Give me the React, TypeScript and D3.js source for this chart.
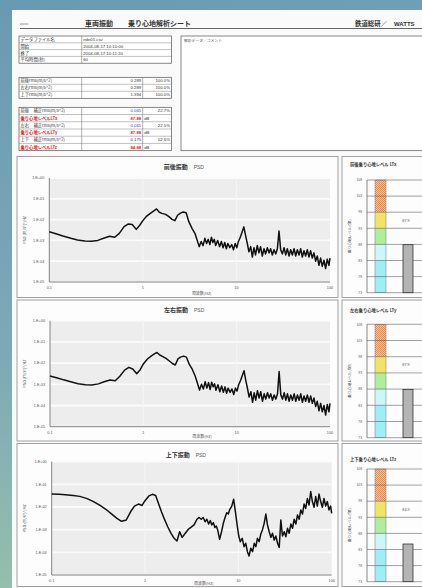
import React from 'react';
import * as d3 from 'd3';

// ---- data ----
const freqHz = [
  0.1, 0.12, 0.14, 0.17, 0.2, 0.24, 0.28, 0.33, 0.38, 0.44, 0.5, 0.56, 0.63, 0.7, 0.77, 0.85, 0.93, 1.0,
  1.1, 1.2, 1.3, 1.4, 1.5, 1.6, 1.75, 1.9, 2.05, 2.2, 2.35, 2.5, 2.7, 2.9, 3.1, 3.35, 3.6, 3.8,
  4.0, 4.2, 4.4, 4.6, 4.8, 5.0, 5.2, 5.4, 5.6, 5.8, 6.0, 6.3, 6.6, 6.9, 7.2, 7.5, 7.8, 8.1, 8.5, 8.9,
  9.3, 9.7, 10.1, 10.5, 11.0, 11.5, 12.0, 12.5, 13.0, 13.6, 14.2, 14.8, 15.4, 16.0, 16.7, 17.4, 18.1,
  18.9, 19.7, 20.5, 21.4, 22.3, 23.2, 24.2, 25.2, 26.3, 27.4, 28.5, 29.7, 31.0, 32.3, 33.6, 35.0, 36.5,
  38.0, 39.6, 41.3, 43.0, 44.8, 46.7, 48.6, 50.6, 52.7, 54.9, 57.2, 59.6, 62.1, 64.7, 67.4, 70.2, 73.1,
  76.2, 79.4, 82.7, 86.2, 89.8, 93.5, 97.4, 100,
];

// PSD as log10 values
const psdFrontBack = [
  -2.58, -2.69, -2.79, -2.9, -2.98, -3.03, -3.04, -3.0, -2.9, -2.8, -2.85, -2.66, -2.34, -2.21, -2.24, -2.47, -2.26, -2.05,
  -1.83, -1.7, -1.59, -1.49, -1.65, -1.7, -1.75, -1.86, -1.99, -2.05, -1.79, -1.7, -1.63, -1.67, -2.1, -2.42, -2.66, -2.98,
  -3.3, -3.05, -3.25, -2.9, -3.15, -2.95, -3.2, -2.85, -3.1, -2.95, -3.25, -3.0, -3.3, -3.05, -3.35, -3.1, -3.4, -3.15, -3.35, -3.2,
  -3.45, -3.15, -3.35, -3.05, -2.85, -2.6, -2.35, -2.75, -3.1, -3.55, -3.3, -3.8, -3.35, -3.7, -3.25, -3.6, -3.3,
  -3.75, -3.4, -3.65, -3.35, -3.6, -3.4, -3.7, -3.45, -3.65, -3.4, -2.55, -3.45, -3.65, -3.35, -3.7, -3.4, -3.75,
  -3.45, -3.7, -3.4, -3.75, -3.45, -3.7, -3.4, -3.8, -3.5, -3.75, -3.45, -3.8, -3.5, -3.85, -3.6, -4.0, -3.75,
  -4.2, -3.85, -4.25, -3.95, -4.35, -3.9, -4.2, -3.85,
];

const psdLeftRight = [
  -2.61, -2.7, -2.79, -2.89, -2.97, -3.02, -3.03, -2.98, -2.88, -2.8, -2.83, -2.62, -2.33, -2.2, -2.28, -2.5, -2.3, -2.04,
  -1.82, -1.68, -1.58, -1.5, -1.62, -1.68, -1.78, -1.9, -2.02, -2.09, -1.8, -1.72, -1.67, -1.72, -2.05, -2.3, -2.62, -2.95,
  -3.27, -3.0, -3.22, -2.88, -3.18, -2.92, -3.25, -2.9, -3.12, -2.98, -3.28, -3.02, -3.35, -3.08, -3.38, -3.12, -3.42, -3.18, -3.38, -3.22,
  -3.48, -3.18, -3.32, -3.02, -2.82, -2.58, -2.36, -2.8, -3.15, -3.6, -3.35, -3.85, -3.4, -3.75, -3.3, -3.65, -3.35,
  -3.8, -3.45, -3.7, -3.4, -3.65, -3.45, -3.75, -3.5, -3.7, -3.45, -2.4, -3.5, -3.7, -3.4, -3.75, -3.45, -3.8,
  -3.5, -3.75, -3.45, -3.8, -3.5, -3.75, -3.45, -3.85, -3.55, -3.8, -3.5, -3.85, -3.55, -3.9, -3.65, -4.05, -3.8,
  -4.25, -3.9, -4.3, -4.0, -4.45, -3.95, -4.3, -3.9,
];

const psdUpDown = [
  -1.43, -1.44, -1.46, -1.49, -1.53, -1.63, -1.76, -1.93, -2.1, -2.31, -2.5, -2.63, -2.57, -2.21, -1.96, -1.87, -1.93, -1.72,
  -1.51, -1.44, -1.49, -1.87, -2.21, -2.5, -2.87, -3.16, -3.38, -3.5, -3.09, -3.34, -3.16, -2.99, -2.9, -2.79, -2.54, -2.46,
  -2.54, -2.46, -2.65, -2.54, -2.75, -2.6, -2.79, -2.69, -2.9, -2.84, -3.01, -3.43, -3.09, -2.72, -2.46, -2.25, -2.31, -2.1, -1.96, -1.66,
  -2.21, -2.79, -3.28, -3.53, -3.38, -3.75, -3.6, -3.97, -4.16, -3.82, -3.97, -3.6, -3.75, -3.38, -3.53, -3.19, -3.01,
  -2.72, -2.31, -2.79, -3.09, -3.34, -3.16, -3.46, -3.28, -3.6, -3.78, -2.57, -3.28, -3.09, -3.31, -2.94, -3.16, -2.75,
  -2.94, -2.54, -2.75, -2.35, -2.54, -2.13, -2.31, -1.87, -2.06, -1.62, -1.91, -1.32, -1.76, -2.01, -1.54, -1.96, -1.43,
  -1.76, -2.01, -1.62, -1.96, -1.76, -2.13, -1.96, -2.28,
];

const psdTickExp = [0, -1, -2, -3, -4, -5];
const freqTicks = [0.1, 1, 10, 100];
const levelTicks = [73, 78, 83, 88, 93, 98, 103, 108];
const bandEdges = [73, 83, 88, 93, 98, 108];
const rideLevels = [87.9, 87.9, 84.7];
const rideLabels = ['87.9', '87.9', '84.9'];
const psdTitles = ['前後振動', '左右振動', '上下振動'];
const levelTitles = ['前後乗り心地レベル LTx', '左右乗り心地レベル LTy', '上下乗り心地レベル LTz'];

const infoLabels = ['データファイル名', '開始', '終了', '平均時間(秒)'];
const infoValues = ['ride01.csv', '2004-08-17 10:10:00', '2004-08-17 10:11:20', '60'];
const rmsLabels = ['前後rms(m/s^2)', '左右rms(m/s^2)', '上下rms(m/s^2)'];
const rmsValues = ['0.289', '0.289', '1.394'];
const rmsPercents = ['100.0%', '100.0%', '100.0%'];
const corrLabels = ['前後　補正rms(m/s^2)', '乗り心地レベルLTx', '左右　補正rms(m/s^2)', '乗り心地レベルLTy', '上下　補正rms(m/s^2)', '乗り心地レベルLTz'];
const corrValues = ['0.065', '87.88', '0.065', '87.88', '0.175', '84.88'];
const corrUnits = ['22.7%', 'dB', '22.5%', 'dB', '12.6%', 'dB'];

const psdSeries = [psdFrontBack, psdLeftRight, psdUpDown];

const JP = '"Noto Sans CJK JP", "Noto Sans", sans-serif';
const SANS = '"Liberation Sans", Arial, sans-serif';

// panel frames on the sheet
const psdPanels = [
  { box: [17, 156.5, 338, 297.5], plot: [49.3, 178, 330, 282], titleY: 169, labY: 289, axY: 294.5 },
  { box: [17, 300, 338, 441], plot: [50, 320.7, 330, 426.7], titleY: 312, labY: 433.5, axY: 438 },
  { box: [17, 443.5, 338, 586.5], plot: [51.7, 461.7, 331.7, 575], titleY: 457, labY: 581.5, axY: 585 },
];
const levelPanels = [
  { box: [342, 156.5, 440, 297.5], plot: [367, 180, 440, 292.7], titleY: 165.5 },
  { box: [342, 300, 440, 441], plot: [367, 324.3, 440, 437.7], titleY: 311.5 },
  { box: [342, 443.5, 440, 586.5], plot: [367, 469, 440, 581.7], titleY: 460.5 },
];
const bandColors = ['#9eeef6', '#cdf6f8', '#b0ee9c', '#f0e466', 'url(#hatch)'];

const fmtExp = (e: number) => (e === 0 ? '1.E+00' : e > 0 ? `1.E+0${e}` : `1.E-0${-e}`);

const PsdPanel = ({ p, data, title }: any) => {
  const [bx0, by0, bx1, by1] = p.box;
  const [x0, y0, x1, y1] = p.plot;
  const x = d3.scaleLog().domain([0.1, 100]).range([x0, x1]);
  const y = d3.scaleLog().domain([1e-5, 1]).range([y1, y0]);
  const line = d3
    .line<number>()
    .x((_, i) => x(freqHz[i]))
    .y(d => y(Math.pow(10, d)));
  const cy = (y0 + y1) / 2;
  const mid = (x0 + x1) / 2;
  return (
    <g>
      <rect x={bx0} y={by0} width={bx1 - bx0} height={by1 - by0} fill="#fdfdfd" stroke="#8a8a8a" strokeWidth={0.8} />
      <rect x={x0} y={y0} width={x1 - x0} height={y1 - y0} fill="#ededed" />
      {psdTickExp.map(e => (
        <line key={e} x1={x0} x2={x1} y1={y(Math.pow(10, e))} y2={y(Math.pow(10, e))} stroke="#fbfbfb" strokeWidth={1.8} />
      ))}
      {freqTicks.slice(1, 3).map(f => (
        <line key={f} x1={x(f)} x2={x(f)} y1={y0} y2={y1} stroke="#f6f6f6" strokeWidth={1} />
      ))}
      <line x1={x0} x2={x0} y1={y0} y2={y1} stroke="#666" strokeWidth={0.8} />
      <line x1={x0} x2={x1} y1={y1} y2={y1} stroke="#666" strokeWidth={0.8} />
      {psdTickExp.map(e => (
        <text key={e} x={x0 - 5} y={y(Math.pow(10, e)) + 1.3} fontSize={3.8} fontFamily={SANS} fill="#555" textAnchor="end">
          {fmtExp(e)}
        </text>
      ))}
      {freqTicks.map(f => (
        <text key={f} x={x(f)} y={p.labY} fontSize={3.8} fontFamily={SANS} fill="#555" textAnchor="middle">
          {f}
        </text>
      ))}
      <text x={mid + 12} y={p.axY} fontSize={4} fontFamily={JP} fill="#555" textAnchor="middle">
        周波数(Hz)
      </text>
      <text transform={`translate(26,${cy}) rotate(-90)`} fontSize={4} fontFamily={JP} fill="#555" textAnchor="middle">
        PSD (m/s²)²/Hz
      </text>
      <text x={mid - 2} y={p.titleY} fontSize={6} fontFamily={JP} fontWeight="bold" fill="#333" textAnchor="end">
        {title}
      </text>
      <text x={mid + 4} y={p.titleY} fontSize={5} fontFamily={SANS} fill="#555">
        PSD
      </text>
      <path d={line(data) || ''} fill="none" stroke="#111" strokeWidth={1.5} strokeLinejoin="round" />
    </g>
  );
};

const LevelPanel = ({ p, value, label, title }: any) => {
  const [bx0, by0, bx1, by1] = p.box;
  const [x0, y0, x1, y1] = p.plot;
  const y = d3.scaleLinear().domain([73, 108]).range([y1, y0]);
  const bandX = x0 + 8;
  const barX = x0 + 36;
  return (
    <g>
      <rect x={bx0} y={by0} width={bx1 - bx0} height={by1 - by0} fill="#fdfdfd" stroke="#8a8a8a" strokeWidth={0.8} />
      {bandEdges.slice(0, -1).map((b, i) => (
        <rect key={b} x={bandX} y={y(bandEdges[i + 1])} width={11} height={y(b) - y(bandEdges[i + 1])} fill={bandColors[i]} />
      ))}
      {levelTicks.map(t => (
        <line key={t} x1={x0} x2={x1} y1={y(t)} y2={y(t)} stroke="#555" strokeWidth={0.55} />
      ))}
      <rect x={bandX} y={y(108)} width={11} height={y(73) - y(108)} fill="none" stroke="#777" strokeWidth={0.5} />
      <line x1={x0} x2={x0} y1={y0} y2={y1} stroke="#555" strokeWidth={0.7} />
      <rect x={barX} y={y(value)} width={10} height={y(73) - y(value)} fill="#b4b4b4" stroke="#333" strokeWidth={0.8} />
      <text x={barX + 3} y={y(95.4) + 1.3} fontSize={3.8} fontFamily={SANS} fill="#555" textAnchor="middle">
        {label}
      </text>
      {levelTicks.map(t => (
        <text key={t} x={x0 - 5} y={y(t) + 1.2} fontSize={3.3} fontFamily={SANS} fill="#555" textAnchor="end">
          {t}
        </text>
      ))}
      <text transform={`translate(351,${(y0 + y1) / 2}) rotate(-90)`} fontSize={3.8} fontFamily={JP} fill="#444" textAnchor="middle">
        乗り心地レベル(dB)
      </text>
      <text x={350} y={p.titleY} fontSize={4.3} fontFamily={JP} fontWeight="bold" fill="#333">
        {title}
      </text>
    </g>
  );
};

const Table = ({ top, rowH, rows, split, split2 }: any) => {
  const left = 19;
  const right = 171.5;
  const h = rows.length * rowH;
  return (
    <g>
      <rect x={left} y={top} width={right - left} height={h} fill="#fff" stroke="#555" strokeWidth={0.7} />
      {rows.map((_: any, i: number) =>
        i > 0 ? <line key={i} x1={left} x2={right} y1={top + i * rowH} y2={top + i * rowH} stroke="#777" strokeWidth={0.45} /> : null
      )}
      <line x1={split} x2={split} y1={top} y2={top + h} stroke="#666" strokeWidth={0.5} />
      {split2 ? <line x1={split2} x2={split2} y1={top} y2={top + h} stroke="#666" strokeWidth={0.5} /> : null}
      {rows.map((r: any, i: number) => {
        const ty = top + i * rowH + rowH / 2 + 1.5;
        return (
          <g key={i} fontSize={4.3} fontFamily={JP}>
            <text x={left + 1.5} y={ty} fill={r.color || '#333'} fontWeight={r.bold ? 'bold' : 'normal'}>
              {r.label}
            </text>
            {split2 ? (
              <text x={split2 - 1.5} y={ty} fill={r.vcolor || '#333'} textAnchor="end" fontWeight={r.bold ? 'bold' : 'normal'} fontFamily={SANS}>
                {r.value}
              </text>
            ) : (
              <text x={split + 1.5} y={ty} fill="#333" fontFamily={SANS}>
                {r.value}
              </text>
            )}
            {split2 && r.unit ? (
              <text
                x={r.unit === 'dB' ? split2 + 1.5 : right - 1.5}
                y={ty}
                fill="#333"
                textAnchor={r.unit === 'dB' ? 'start' : 'end'}
                fontFamily={SANS}
              >
                {r.unit}
              </text>
            ) : null}
          </g>
        );
      })}
    </g>
  );
};

export default function App() {
  const infoRows = infoLabels.map((l, i) => ({ label: l, value: infoValues[i] }));
  const rmsRows = rmsLabels.map((l, i) => ({ label: l, value: rmsValues[i], unit: rmsPercents[i] }));
  const corrRows = corrLabels.map((l, i) => {
    const red = i % 2 === 1;
    return {
      label: l,
      value: corrValues[i],
      unit: corrUnits[i],
      color: red ? '#e31b1b' : '#333',
      vcolor: red ? '#e31b1b' : i < 4 ? '#2c4f9e' : '#333',
      bold: red,
    };
  });

  return (
    <svg width={422} height={588} style={{ position: 'fixed', left: 0, top: 0 }}>
      <defs>
        <linearGradient id="bg" x1="0" y1="0" x2="0.2" y2="1">
          <stop offset="0" stopColor="#6a99b3" />
          <stop offset="0.6" stopColor="#7eaab6" />
          <stop offset="1" stopColor="#98c0ab" />
        </linearGradient>
        <pattern id="hatch" width={2} height={2} patternUnits="userSpaceOnUse">
          <rect width={2} height={2} fill="#f8c8a0" />
          <rect width={1} height={1} fill="#ee8a45" />
          <rect x={1} y={1} width={1} height={1} fill="#ee8a45" />
        </pattern>
      </defs>
      <rect width={422} height={588} fill="url(#bg)" />
      <rect x={12} y={10} width={420} height={590} fill="#fafafa" />

      {/* header */}
      <text x={20} y={25} fontSize={4.2} fontFamily={SANS} fill="#777">xxxx</text>
      <text x={85} y={25.5} fontSize={7} fontFamily={JP} fontWeight="bold" fill="#333">車両振動</text>
      <text x={128} y={25.5} fontSize={7} fontFamily={JP} fontWeight="bold" fill="#333">乗り心地解析シート</text>
      <text x={355} y={25.5} fontSize={6.4} fontFamily={JP} fontWeight="bold" fill="#333">鉄道総研／</text>
      <text x={394} y={25.5} fontSize={6} fontFamily={SANS} fontWeight="bold" fill="#333">WATTS</text>
      <line x1={20} x2={422} y1={28.5} y2={28.5} stroke="#555" strokeWidth={0.9} />

      {/* tables */}
      <Table top={36} rowH={6.8} rows={infoRows} split={81.7} />
      <Table top={77.3} rowH={7} rows={rmsRows} split={81.7} split2={142.7} />
      <Table top={107.3} rowH={7.23} rows={corrRows} split={81.7} split2={142.7} />

      {/* comment box */}
      <rect x={181} y={36} width={260} height={114.7} fill="#fff" stroke="#555" strokeWidth={0.7} />
      <text x={184} y={42} fontSize={3.8} fontFamily={JP} fill="#555">解析データ／コメント</text>

      {psdPanels.map((p, i) => (
        <PsdPanel key={i} p={p} data={psdSeries[i]} title={psdTitles[i]} />
      ))}
      {levelPanels.map((p, i) => (
        <LevelPanel key={i} p={p} value={rideLevels[i]} label={rideLabels[i]} title={levelTitles[i]} />
      ))}
    </svg>
  );
}
